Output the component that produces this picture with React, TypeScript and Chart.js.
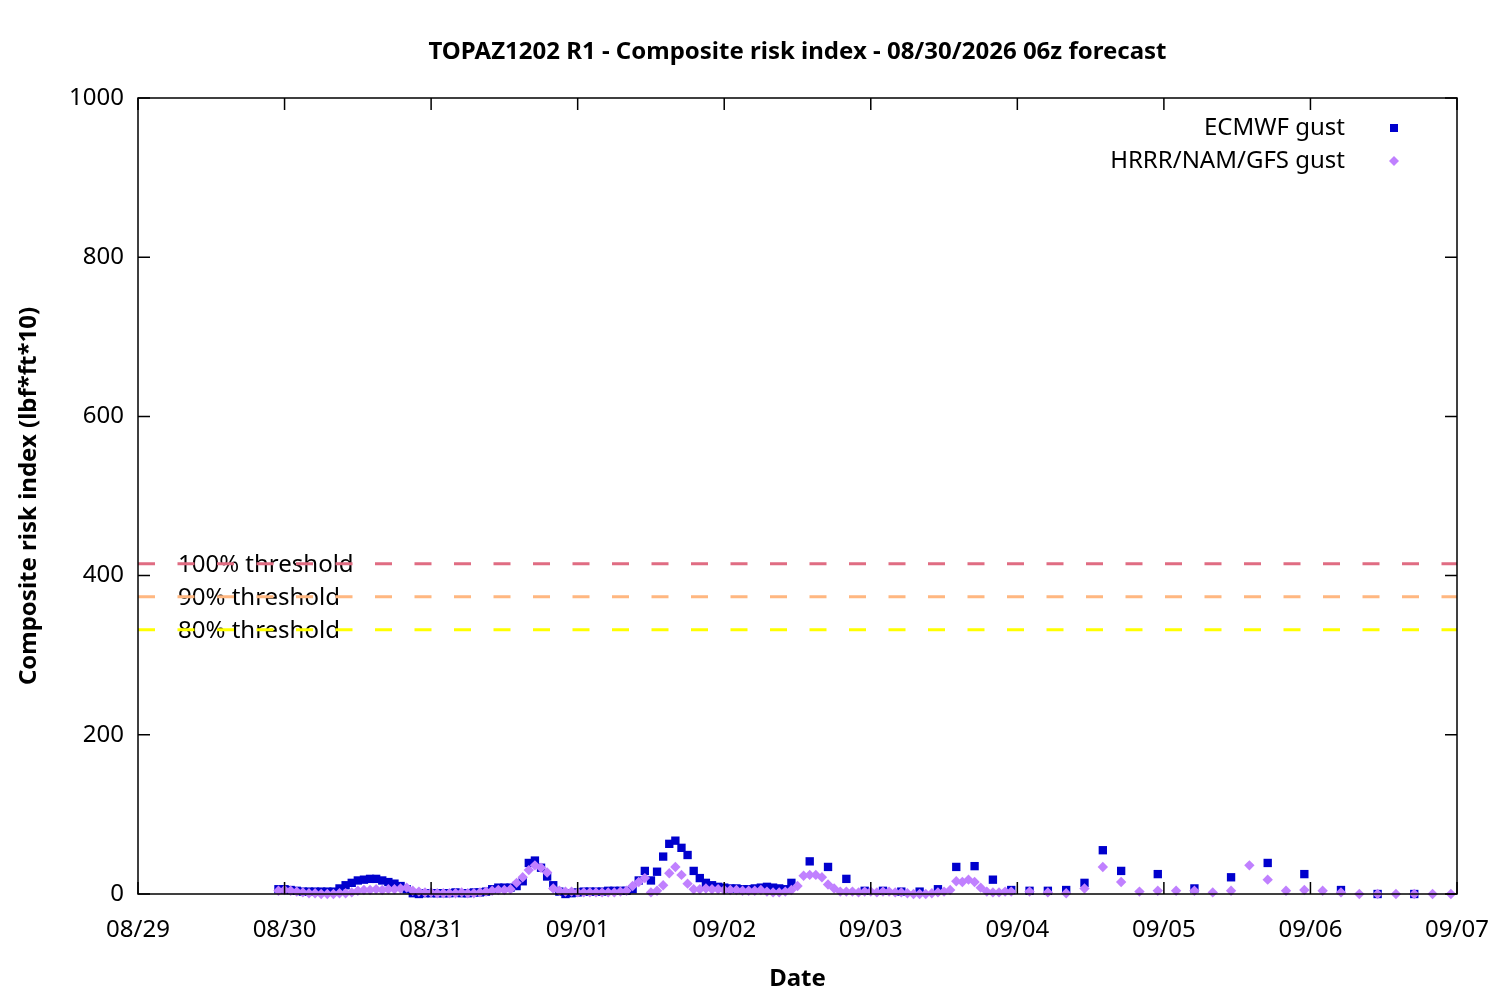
import { useEffect, useRef } from 'react'
import { Chart, registerables } from 'chart.js'

Chart.register(...registerables)

// x axis: hours since 08/29 00:00 local time, one tick per day
const dayLabels = ['08/29', '08/30', '08/31', '09/01', '09/02', '09/03', '09/04', '09/05', '09/06', '09/07']

// ECMWF gust: hourly from hour 23, then 3-hourly, then 6-hourly
const ecmwfHourlyStart = 23
const ecmwfHourly = [
  6, 6, 5, 4, 3, 3, 3, 3, 3, 3,
  7, 11, 14, 17, 18, 19, 19, 17, 15, 13, 10, 6,
  1, 0, 1, 1, 1, 1, 1, 2, 1, 1, 2, 2, 3,
  6, 8, 8, 8, 10, 16, 39, 42, 33, 22, 11, 3,
  0, 1, 2, 3, 3, 3, 3, 4, 4, 4, 4,
  6, 17, 29, 17, 28, 47, 63, 67, 58, 49, 29, 20, 14, 11, 9,
  8, 7, 7, 6, 6, 7, 8, 9, 8, 7, 6, 14,
]
const ecmwf3hStart = 110
const ecmwf3h = [41, 34, 19, 4, 4, 3, 3, 6, 34, 35, 18, 5, 4, 4, 5, 14, 55, 29]
const ecmwf6hStart = 167
const ecmwf6h = [25, 7, 21, 39, 25, 5, 0, 0]

// HRRR/NAM/GFS gust: hourly from hour 23, then 3-hourly
const hrrrHourlyStart = 23
const hrrrHourly = [
  4, 5, 4, 3, 2, 1, 1, 0, 0, 0, 1, 1, 2,
  4, 5, 5, 6, 5, 6, 6, 7, 8,
  4, 3, 2, 2, 1, 1, 1, 1, 2, 1, 1, 2, 3,
  4, 5, 5, 6, 14, 21, 30, 36, 33, 27, 7, 4,
  3, 3, 2, 2, 2, 2, 2, 2, 2, 3, 4,
  10, 15, 20, 2, 4, 11, 26, 34, 24, 13, 6,
  6, 7, 6, 6, 5, 5, 5, 4, 4, 4, 5, 3, 2, 2, 3, 5,
  10, 23, 24, 24, 21, 12, 7, 3,
  3, 3, 2, 3, 3, 2, 3, 3, 2, 2, 1, 0, 0, 0, 1, 2, 3, 5,
  16, 15, 18, 15, 8, 3, 2, 2, 3, 3,
]
const hrrr3hStart = 146
const hrrr3h = [3, 2, 1, 7, 34, 15, 3, 4, 4, 4, 2, 4, 36, 18, 4, 5, 4, 2, 0, 0, 0, 0, 0, 0]

const thresholdLabels = ['100% threshold', '90% threshold', '80% threshold']
const thresholdValues = [415, 373.5, 332]
const thresholdColors = ['#e06c82', '#ffb780', '#ffff00']

const ECMWF_COLOR = '#0000cd'
const HRRR_COLOR = '#c080ff'
const FONT = '"Noto Sans", sans-serif'

function toPoints(start: number, step: number, values: number[]) {
  return values.map((y, i) => ({ x: start + i * step, y }))
}

const framePlugin = {
  id: 'gnuplotFrame',
  beforeDatasetsDraw(chart: any) {
    const { ctx, chartArea, scales } = chart
    ctx.save()
    ctx.font = `24px ${FONT}`
    ctx.fillStyle = '#000'
    ctx.textBaseline = 'middle'
    ctx.textAlign = 'left'
    thresholdLabels.forEach((t, i) => {
      ctx.fillText(t, chartArea.left + 40, scales.y.getPixelForValue(thresholdValues[i]) + 1)
    })
    ctx.restore()
  },
  afterDatasetsDraw(chart: any) {
    const { ctx, chartArea, scales } = chart
    const { left, right, top, bottom } = chartArea
    const tick = 12
    ctx.save()
    ctx.strokeStyle = '#000'
    ctx.lineWidth = 1.5
    ctx.beginPath()
    scales.x.ticks.forEach((t: any) => {
      const px = scales.x.getPixelForValue(t.value)
      ctx.moveTo(px, bottom)
      ctx.lineTo(px, bottom - tick)
      ctx.moveTo(px, top)
      ctx.lineTo(px, top + tick)
    })
    scales.y.ticks.forEach((t: any) => {
      const py = scales.y.getPixelForValue(t.value)
      ctx.moveTo(left, py)
      ctx.lineTo(left + tick, py)
      ctx.moveTo(right, py)
      ctx.lineTo(right - tick, py)
    })
    ctx.stroke()
    ctx.strokeRect(left, top, right - left, bottom - top)

    // key, top right inside the plot
    ctx.font = `24px ${FONT}`
    ctx.fillStyle = '#000'
    ctx.textAlign = 'right'
    ctx.textBaseline = 'middle'
    const textX = right - 112
    const markX = right - 63
    const y1 = top + 30
    const y2 = top + 63
    ctx.fillText('ECMWF gust', textX, y1)
    ctx.fillText('HRRR/NAM/GFS gust', textX, y2)
    ctx.fillStyle = ECMWF_COLOR
    ctx.fillRect(markX - 4, y1 - 4, 8, 8)
    ctx.fillStyle = HRRR_COLOR
    ctx.beginPath()
    ctx.moveTo(markX - 5, y2)
    ctx.lineTo(markX, y2 - 5)
    ctx.lineTo(markX + 5, y2)
    ctx.lineTo(markX, y2 + 5)
    ctx.closePath()
    ctx.fill()
    ctx.restore()
  },
}

export default function App() {
  const ref = useRef<HTMLCanvasElement | null>(null)

  useEffect(() => {
    if (!ref.current) return
    const ctx = ref.current.getContext('2d')
    if (!ctx) return

    Chart.defaults.font.family = FONT
    Chart.defaults.color = '#000'

    const thresholdSets = thresholdValues.map((v, i) => ({
      label: thresholdLabels[i],
      data: [{ x: 0, y: v }, { x: 216, y: v }],
      showLine: true,
      borderColor: thresholdColors[i],
      borderWidth: 3,
      borderDash: [17, 22.5],
      pointRadius: 0,
    }))

    const chart = new Chart(ctx, {
      type: 'scatter',
      data: {
        datasets: [
          {
            label: 'HRRR/NAM/GFS gust',
            data: [
              ...toPoints(hrrrHourlyStart, 1, hrrrHourly),
              ...toPoints(hrrr3hStart, 3, hrrr3h),
            ],
            pointStyle: 'rectRot',
            pointRadius: 5.2,
            pointBorderWidth: 0,
            backgroundColor: HRRR_COLOR,
            borderColor: HRRR_COLOR,
            clip: false,
          },
          {
            label: 'ECMWF gust',
            data: [
              ...toPoints(ecmwfHourlyStart, 1, ecmwfHourly),
              ...toPoints(ecmwf3hStart, 3, ecmwf3h),
              ...toPoints(ecmwf6hStart, 6, ecmwf6h),
            ],
            pointStyle: 'rect',
            pointRadius: 5.9,
            pointBorderWidth: 0,
            backgroundColor: ECMWF_COLOR,
            borderColor: ECMWF_COLOR,
            clip: false,
          },
          ...thresholdSets,
        ] as any,
      },
      options: {
        animation: false,
        responsive: false,
        devicePixelRatio: 1,
        events: [],
        layout: { padding: { left: 0, right: 43, top: 0, bottom: 0 } },
        plugins: {
          legend: { display: false },
          tooltip: { enabled: false },
          title: {
            display: true,
            fullSize: false,
            text: 'TOPAZ1202 R1 - Composite risk index - 08/30/2026 06z forecast',
            color: '#000',
            font: { size: 24, weight: 'bold' },
            padding: { top: 37.6, bottom: 31.6 },
          },
        },
        scales: {
          x: {
            type: 'linear',
            min: 0,
            max: 216,
            afterFit: (s: any) => {
              s.height = 106
              s.paddingLeft = 0
              s.paddingRight = 0
            },
            grid: { display: false, drawTicks: false },
            border: { display: false },
            ticks: {
              stepSize: 24,
              padding: 22,
              autoSkip: false,
              maxRotation: 0,
              font: { size: 24 },
              callback: (v: any) => dayLabels[Math.round(Number(v) / 24)],
            },
            title: {
              display: true,
              text: 'Date',
              font: { size: 24, weight: 'bold' },
              padding: { top: 0, bottom: 6 },
            },
          },
          y: {
            min: 0,
            max: 1000,
            afterFit: (s: any) => { s.width = 138 },
            grid: { display: false, drawTicks: false },
            border: { display: false },
            ticks: {
              stepSize: 200,
              padding: 14,
              font: { size: 24 },
              callback: (v: any) => String(v),
            },
            title: {
              display: true,
              text: 'Composite risk index (lbf*ft*10)',
              font: { size: 24, weight: 'bold' },
              padding: { top: 15, bottom: 0 },
            },
          },
        },
      },
      plugins: [framePlugin],
    })
    return () => chart.destroy()
  }, [])

  return (
    <div style={{ position: 'absolute', left: 0, top: 0, width: 1500, height: 1000, background: '#fff' }}>
      <canvas ref={ref} width={1500} height={1000} />
    </div>
  )
}
